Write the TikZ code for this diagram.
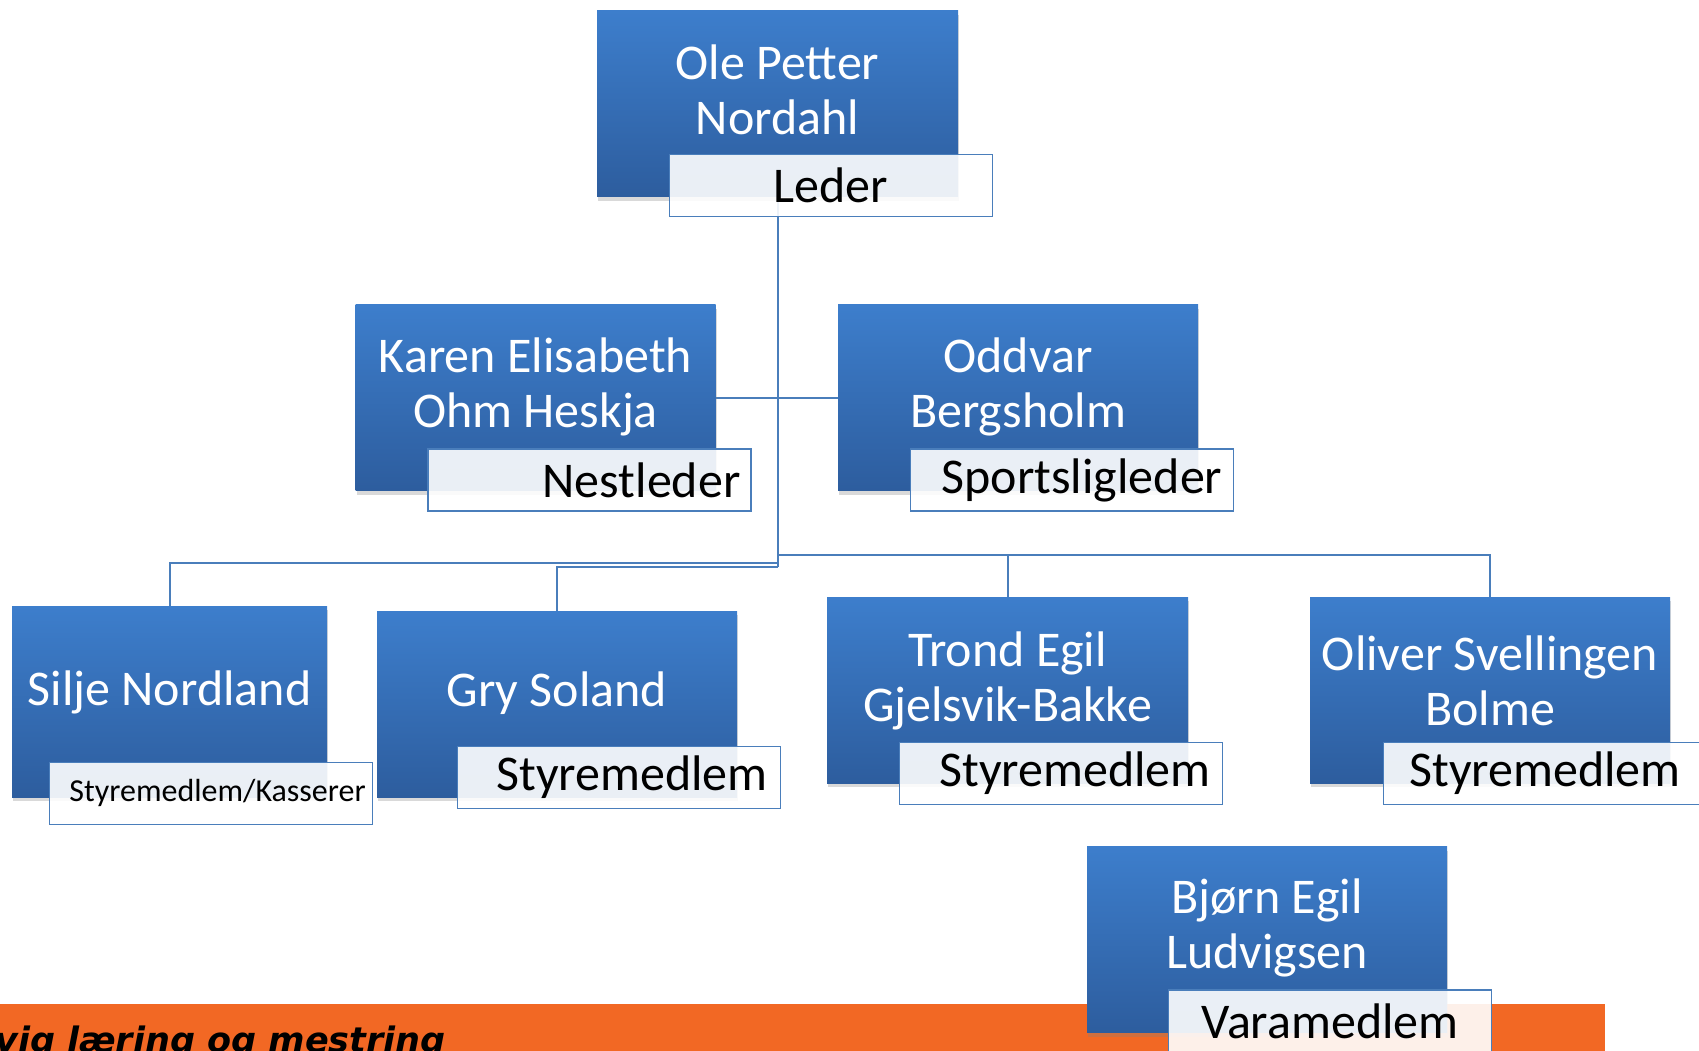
\documentclass[tikz,border=0pt]{standalone}
\usepackage{fontspec}
\setmainfont{Carlito}
\newfontfamily\mottofont{DejaVu Sans}
\usepackage{tikz}
\usetikzlibrary{positioning, shadows, backgrounds}
\definecolor{boxtop}{RGB}{61,126,204}
\definecolor{boxbot}{RGB}{45,93,158}
\definecolor{linkblue}{RGB}{74,126,187}
\definecolor{bandorange}{RGB}{242,104,36}
\tikzstyle{namebox} = [rectangle, top color=boxtop, bottom color=boxbot, draw=none, minimum width=360pt, minimum height=186pt, drop shadow={opacity=0.3, shadow xshift=1pt, shadow yshift=-4pt}]
\tikzstyle{nametext} = [text=white, align=center, inner sep=0pt, font=\fontsize{50}{55}\selectfont]
\tikzstyle{titlebox} = [rectangle, anchor=south west, draw=linkblue, line width=1.5pt, fill=white, fill opacity=0.9, text opacity=1, minimum width=323pt, minimum height=62pt, inner sep=0pt, font=\fontsize{50}{55}\selectfont]
\tikzstyle{link} = [draw=linkblue, line width=2pt]

\begin{document}
\begin{tikzpicture}[x=1pt, y=-1pt]
    \useasboundingbox (0,0) rectangle (1699,1051);
    % name boxes
    \node(ole)[namebox, minimum width=361pt] at (777.5,104) {};
    \node(karen)[namebox] at (535.5,397.5) {};
    \node(oddvar)[namebox] at (1018,397.5) {};
    \node(silje)[namebox, minimum width=315pt, minimum height=191pt] at (169.5,701.5) {};
    \node(gry)[namebox] at (557,704) {};
    \node(trond)[namebox, minimum width=361pt] at (1007.5,690) {};
    \node(oliver)[namebox] at (1490,690) {};
    \node(bjorn)[namebox] at (1267,939.5) {};
    % names
    \node(oletxt)[nametext] at ([yshift=-79pt]ole.north) {Ole Petter\\Nordahl};
    \node(karentxt)[nametext] at ([yshift=-83pt]karen.north) {Karen Elisabeth\\Ohm Heskja};
    \node(oddvartxt)[nametext] at ([yshift=-83pt]oddvar.north) {Oddvar\\Bergsholm};
    \node(siljetxt)[nametext] at ([yshift=-87pt]silje.north) {Silje Nordland};
    \node(grytxt)[nametext] at ([yshift=-82pt]gry.north) {Gry Soland};
    \node(trondtxt)[nametext] at ([yshift=-84pt]trond.north) {Trond Egil\\Gjelsvik-Bakke};
    \node(olivertxt)[nametext] at ([yshift=-84pt]oliver.north) {Oliver Svellingen\\Bolme};
    \node(bjorntxt)[nametext] at ([yshift=-82pt]bjorn.north) {Bjørn Egil\\Ludvigsen};
    % titles
    \node(oletitle)[titlebox] at ([xshift=72pt, yshift=-20pt]ole.south west) {Leder};
    \node(karentitle)[titlebox] at ([xshift=72pt, yshift=-21pt]karen.south west) {\hspace*{104pt}Nestleder};
    \node(oddvartitle)[titlebox] at ([xshift=72pt, yshift=-21pt]oddvar.south west) {\hspace*{20pt}Sportsligleder};
    \node(siljetitle)[titlebox, font=\fontsize{32}{36}\selectfont] at ([xshift=37pt, yshift=-28pt]silje.south west) {\hspace*{13pt}Styremedlem/Kasserer};
    \node(grytitle)[titlebox] at ([xshift=80pt, yshift=-12pt]gry.south west) {\hspace*{26pt}Styremedlem};
    \node(trondtitle)[titlebox] at ([xshift=72pt, yshift=-22pt]trond.south west) {\hspace*{28pt}Styremedlem};
    \node(olivertitle)[titlebox] at ([xshift=73pt, yshift=-22pt]oliver.south west) {Styremedlem};
    \node(bjorntitle)[titlebox] at ([xshift=81pt, yshift=-20pt]bjorn.south west) {Varamedlem};
    % band and connectors behind the boxes
    \begin{scope}[on background layer]
        \fill[bandorange] (0,1004) rectangle (1605,1051);
        \node(motto)[anchor=base west, inner sep=0pt, text=black, font=\mottofont\fontsize{35}{40}\selectfont\bfseries\itshape] at (-5,1052) {vig læring og mestring};
        \coordinate (hub) at (ole.south |- 0,567);
        \draw[link] (ole.south) -- (hub);
        \draw[link] (karen.east) -- (oddvar.west);
        \draw[link] (ole.south |- 0,563) -| (silje.north);
        \draw[link] (hub) -| (gry.north);
        \draw[link] (ole.south |- 0,555) -| (oliver.north);
        \draw[link] (trond.north) -- (trond.north |- 0,555);
    \end{scope}
\end{tikzpicture}
\end{document}
